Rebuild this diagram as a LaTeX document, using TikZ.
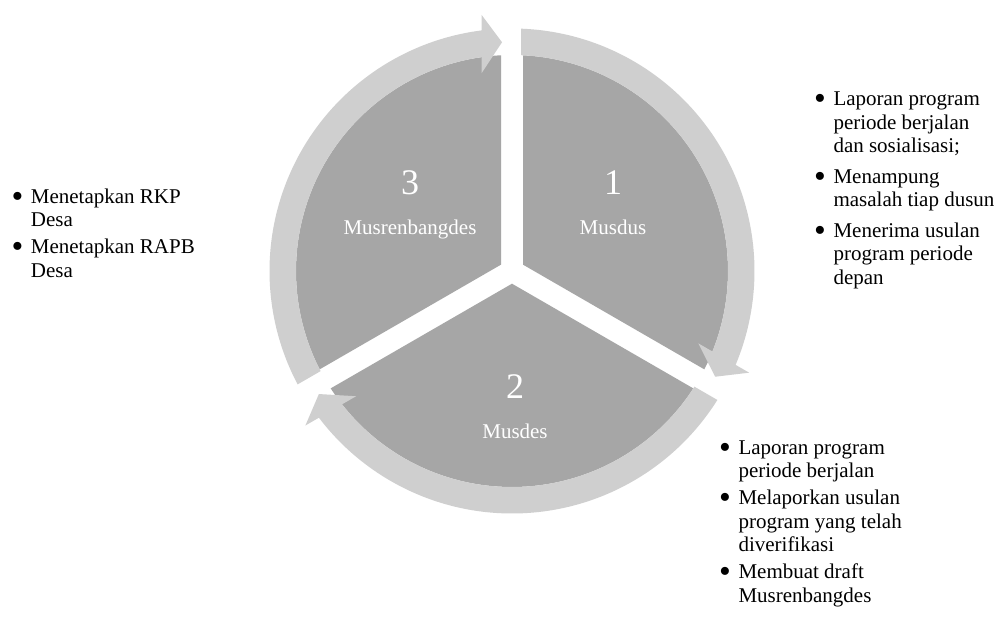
\documentclass[tikz,border=0pt]{standalone}
\usepackage{fontspec}
\setmainfont{Liberation Serif}
\usetikzlibrary{calc}

\definecolor{sectorfill}{RGB}{166,166,166}
\definecolor{ringfill}{RGB}{207,207,207}

\tikzset{
  sector/.style={fill=sectorfill, draw=none},
  ringarrow/.style={fill=ringfill, draw=none},
  stagenum/.style={text=white, font=\fontsize{36}{40}\selectfont, inner sep=0pt, anchor=base},
  stagename/.style={text=white, font=\fontsize{21}{25}\selectfont, inner sep=0pt, anchor=base},
  notes/.style={text=black, font=\fontsize{21}{23.5}\selectfont, inner sep=0pt, anchor=base west},
}

% radii of the pie and of the surrounding arrow ring
\def\Rpie{216pt}
\def\Rin{216pt}
\def\Rout{242.5pt}
\def\Rmid{229pt}
\def\Rhi{258pt}
\def\Rlo{200pt}

% one pie slice, #1 = angle of its bisector; slices are separated by 22pt white bands
\newcommand\pieslice[1]{%
  \fill[sector] (#1:12.7pt)
    -- ({#1+60-asin(11/216)}:\Rpie)
    arc[start angle={#1+60-asin(11/216)}, end angle={#1-60+asin(11/216)}, radius=\Rpie]
    -- cycle;}

% one curved ring arrow, #1 = angle of the band where it starts; it runs 120 degrees clockwise
\newcommand\cyclearrow[1]{%
  \fill[ringarrow]
    ({#1-asin(9/242.5)}:\Rout)
    arc[start angle={#1-asin(9/242.5)}, end angle={#1-120+asin(30.5/242.5)}, radius=\Rout]
    -- ({#1-120+asin(30.5/258)}:\Rhi)
    -- ({#1-120+asin(10/229)}:\Rmid)
    -- ({#1-120+asin(30.5/200)}:\Rlo)
    -- ({#1-120+asin(30.5/216)}:\Rin)
    arc[start angle={#1-120+asin(30.5/216)}, end angle={#1-asin(9/216)}, radius=\Rin]
    -- cycle;}

% list bullet, enlarged and kept centred on the x-height
\newcommand\bul{\makebox[19.3pt][l]{\raisebox{-3.8pt}{\scalebox{1.6}{\textbullet}}}}

\begin{document}
\begin{tikzpicture}[x=1pt, y=1pt]
  \fill[white] (0,0) rectangle (999,619);
  \useasboundingbox (0,0) rectangle (999,619);

  \begin{scope}[shift={(512,348)}]
    \pieslice{30}
    \pieslice{-90}
    \pieslice{150}
    \cyclearrow{90}
    \cyclearrow{-30}
    \cyclearrow{210}
  \end{scope}

  % stage labels
  \node[stagenum]  (n1) at (613,424) {1};
  \node[stagename] (s1) at (613,384) {Musdus};
  \node[stagenum]  (n2) at (515,220.7) {2};
  \node[stagename] (s2) at (515,180.7) {Musdes};
  \node[stagenum]  (n3) at (410,424) {3};
  \node[stagename] (s3) at (410,384) {Musrenbangdes};

  % notes beside each stage
  \node[notes] (notes1) at (814,513) {%
    \begin{tabular}[t]{@{}l@{}l@{}}
      \bul & Laporan program\\
           & periode berjalan\\
           & dan sosialisasi;\\[7pt]
      \bul & Menampung\\
           & masalah tiap dusun\\[7pt]
      \bul & Menerima usulan\\
           & program periode\\
           & depan
    \end{tabular}};

  \node[notes] (notes2) at (719,164.7) {%
    \begin{tabular}[t]{@{}l@{}l@{}}
      \bul & Laporan program\\
           & periode berjalan\\[3.5pt]
      \bul & Melaporkan usulan\\
           & program yang telah\\
           & diverifikasi\\[3.5pt]
      \bul & Membuat draft\\
           & Musrenbangdes
    \end{tabular}};

  \node[notes] (notes3) at (11.4,415.7) {%
    \begin{tabular}[t]{@{}l@{}l@{}}
      \bul & Menetapkan RKP\\
           & Desa\\[3.5pt]
      \bul & Menetapkan RAPB\\
           & Desa
    \end{tabular}};
\end{tikzpicture}
\end{document}
